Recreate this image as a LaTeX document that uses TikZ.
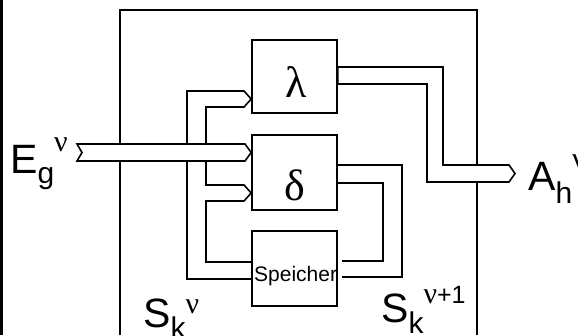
\documentclass[tikz,border=0pt]{standalone}
\usepackage{fontspec}
\setmainfont{Liberation Sans}
\newfontfamily\grfont{Liberation Serif}
\usetikzlibrary{calc}
\tikzset{
  wire/.style={line width=1.6pt, line join=miter},
  blk/.style={draw, line width=1.6pt, inner sep=0pt, minimum width=85pt, minimum height=73pt},
  txt/.style={inner sep=0pt, anchor=base west},
}
\newcommand{\bigf}{\fontsize{41}{41}\selectfont}
\newcommand{\subf}{\fontsize{30}{30}\selectfont}
\newcommand{\supf}{\fontsize{30}{30}\selectfont\grfont}
\newcommand{\supsf}{\fontsize{25}{25}\selectfont\rmfamily}
\begin{document}
\begin{tikzpicture}[x=1pt,y=-1pt]
\useasboundingbox (0,0) rectangle (578,335);
\fill (0,0) rectangle (3,335);
% outer frame
\draw[wire] (120,335) -- (120,10) -- (477,10) -- (477,335);
% blocks
\node[blk] (lam) at (294.5,76.5) {};
\node[blk, minimum height=75pt] (del) at (294.5,172.5) {};
\node[blk, minimum height=75pt] (mem) at (294.5,268.5) {};
% state bus from memory to lambda and delta
\coordinate (lamin) at ([yshift=-22.5pt]lam.west);
\coordinate (delin) at ([yshift=-20.5pt]del.west);
\draw[wire] ([yshift=-10.5pt]mem.west) -- (187,279) -- (187,91) -- (244,91) -- (lamin)
  -- (244,107) -- (206,107) -- (206,185) -- (244,185) -- (delin)
  -- (244,201) -- (206,201) -- (206,262) -- ([yshift=6.5pt]mem.west);
% delta to memory
\coordinate (memr1) at ([xshift=4pt,yshift=-8.5pt]mem.east);
\coordinate (memr2) at ([xshift=4pt,yshift=7.5pt]mem.east);
\draw[wire] ([yshift=7.5pt]del.east) -- (402,165) -- (402,277) -- (memr1);
\draw[wire] ([yshift=-10.5pt]del.east) -- (383,183) -- (383,261) -- (memr2);
% input bus
\coordinate (Ein) at (77,144);
\draw[wire, fill=white] (Ein) -- (245,144) -- ([yshift=20pt]del.west) -- (245,161)
  -- (77,161) -- (82,152.5) -- cycle;
% output bus
\coordinate (Aout) at (515,173.5);
\draw[wire, fill=white] ([yshift=9.5pt]lam.east) -- (443,67) -- (443,165) -- (509,165)
  -- (Aout) -- (509,182) -- (427,182) -- (427,84) -- ([yshift=-7.5pt]lam.east) -- cycle;
% texts
\node[anchor=base, inner sep=0pt] (lamt) at (296,97) {\fontsize{44}{44}\selectfont\grfont λ};
\node[anchor=base, inner sep=0pt] (delt) at (295,200) {\fontsize{44}{44}\selectfont\grfont δ};
\node[txt] (memt) at (254,281.5) {\fontsize{21}{21}\selectfont Speicher};
\node[txt] (Elab) at (10,173) {\bigf E\raisebox{-10.5pt}{\subf g}\raisebox{22pt}{\supf ν}};
\node[txt] (Slab) at (143,327) {\bigf S\raisebox{-11.5pt}{\subf k}\raisebox{14pt}{\supf ν}};
\node[txt] (S2lab) at (381,322) {\bigf S\raisebox{-11.5pt}{\subf k}\raisebox{19pt}{\supf ν\supsf +1}};
\node[txt] (Alab) at (528,190) {\bigf A\raisebox{-13.5pt}{\subf h}\raisebox{22pt}{\supf ν}};
\end{tikzpicture}
\end{document}
